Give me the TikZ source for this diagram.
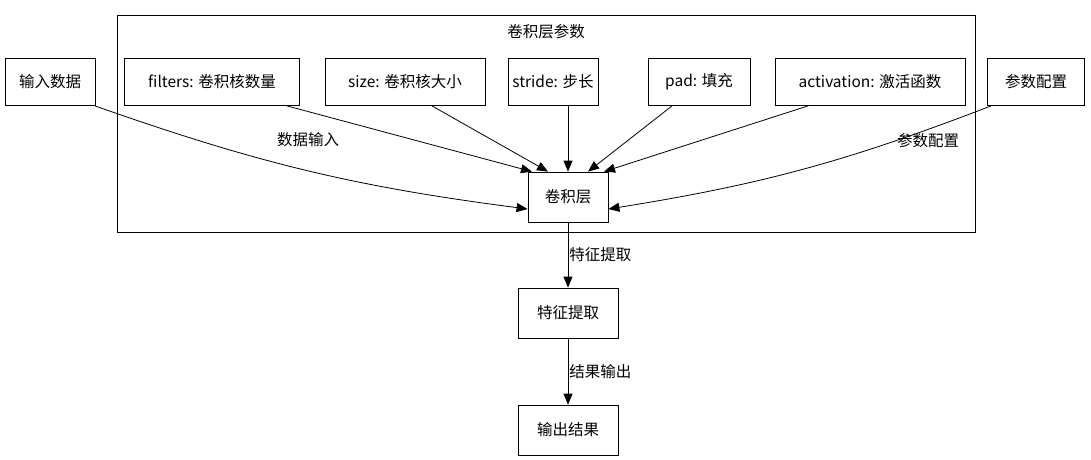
\documentclass[tikz,border=0pt]{standalone}
\usepackage{fontspec}
\setmainfont{Noto Sans CJK SC}
\usetikzlibrary{arrows.meta,positioning}

\tikzset{
  box/.style={draw,thick,minimum height=47pt,inner xsep=2pt,font=\fontsize{15.5}{18}\selectfont},
  lbl/.style={font=\fontsize{15.5}{18}\selectfont},
  flow/.style={->,>={Triangle[length=11pt,width=9pt]},thick}
}

\begin{document}
\begin{tikzpicture}[x=1pt,y=-1pt]
  \useasboundingbox (0,0) rectangle (1091,459);
  % cluster
  \draw[thick] (117,15) rectangle (975,232);
  \node[lbl] (title) at (546,32) {卷积层参数};

  \node[box,minimum width=90pt] (in) at (50,82) {输入数据};
  \node[box,minimum width=175pt] (filters) at (212,82) {filters: 卷积核数量};
  \node[box,minimum width=160pt] (size) at (405,82) {size: 卷积核大小};
  \node[box,minimum width=90pt] (stride) at (553,82) {stride: 步长};
  \node[box,minimum width=102pt] (pad) at (699,82) {pad: 填充};
  \node[box,minimum width=190pt] (act) at (870,82) {activation: 激活函数};
  \node[box,minimum width=97pt] (cfg) at (1036,82) {参数配置};

  \node[box,minimum height=50pt,minimum width=80pt] (conv) at (568,197) {卷积层};
  \node[box,minimum height=50pt,minimum width=100pt] (feat) at (568,313) {特征提取};
  \node[box,minimum height=50pt,minimum width=100pt] (out) at (568,430) {输出结果};

  \draw[flow] ([xshift=45pt]in.south) to[bend left=-6] ([yshift=-12pt]conv.west);
  \draw[flow] ([xshift=-45pt]cfg.south) to[bend left=6] ([yshift=-12pt]conv.east);
  \node[lbl] (l1) at (308,140) {数据输入};
  \node[lbl] (l2) at (928,141) {参数配置};

  \draw[flow] ([xshift=75pt]filters.south) -- ([xshift=-36pt]conv.north);
  \draw[flow] ([xshift=27pt]size.south) -- ([xshift=-20pt]conv.north);
  \draw[flow] ([xshift=15pt]stride.south) -- (conv.north);
  \draw[flow] ([xshift=-27pt]pad.south) -- ([xshift=20pt]conv.north);
  \draw[flow] ([xshift=-62pt]act.south) -- ([xshift=36pt]conv.north);

  \draw[flow] (conv) -- node[lbl,right,inner sep=1pt] {特征提取} (feat);
  \draw[flow] (feat) -- node[lbl,right,inner sep=1pt] {结果输出} (out);
\end{tikzpicture}
\end{document}
